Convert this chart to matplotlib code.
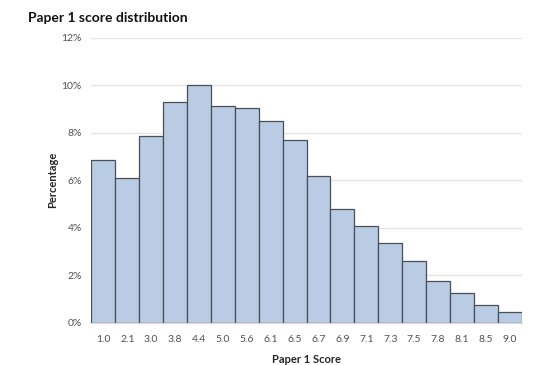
import numpy as np
import matplotlib
matplotlib.use("Agg")
import matplotlib.pyplot as plt
from matplotlib.ticker import FuncFormatter

scores = ["1.0", "2.1", "3.0", "3.8", "4.4", "5.0", "5.6", "6.1", "6.5",
          "6.7", "6.9", "7.1", "7.3", "7.5", "7.8", "8.1", "8.5", "9.0"]
percentages = [6.84, 6.08, 7.86, 9.29, 10.0, 9.12, 9.04, 8.5, 7.7,
               6.2, 4.8, 4.06, 3.36, 2.6, 1.77, 1.25, 0.75, 0.43]

plt.rcParams['font.family'] = ['Lato', 'DejaVu Sans']

fig = plt.figure(figsize=(5.54, 3.65), dpi=100)
ax = fig.add_axes([0.165, 0.1164, 0.7767, 0.7795])

x = np.arange(len(scores))
ax.bar(x, percentages, width=1.0, color="#b9cce4", edgecolor="#4a4f57",
       linewidth=0.9, zorder=3)

ax.set_xlim(-0.5, len(scores) - 0.5)
ax.set_ylim(0, 12)
ax.set_yticks(np.arange(0, 13, 2))
ax.yaxis.set_major_formatter(FuncFormatter(lambda v, p: f"{int(v)}%"))
ax.set_xticks(x)
ax.set_xticklabels(scores)

ax.grid(axis="y", color="#e3e3e3", linewidth=0.9, zorder=0)
for s in ["top", "right", "left"]:
    ax.spines[s].set_visible(False)
ax.spines["bottom"].set_color("#d9d9d9")
ax.tick_params(axis="both", length=0, labelsize=7.5, labelcolor="#505050")
ax.tick_params(axis="y", pad=7)
ax.tick_params(axis="x", pad=9)

ax.set_xlabel("Paper 1 Score", fontsize=8, fontweight="bold", color="#262626", labelpad=7)
ax.set_ylabel("Percentage", fontsize=8, fontweight="bold", color="#262626", labelpad=2)

fig.text(0.05, 0.952, "Paper 1 score distribution", fontsize=10, fontweight="bold",
         color="#111111", va="center", ha="left")

fig.savefig("out.png", dpi=100)
